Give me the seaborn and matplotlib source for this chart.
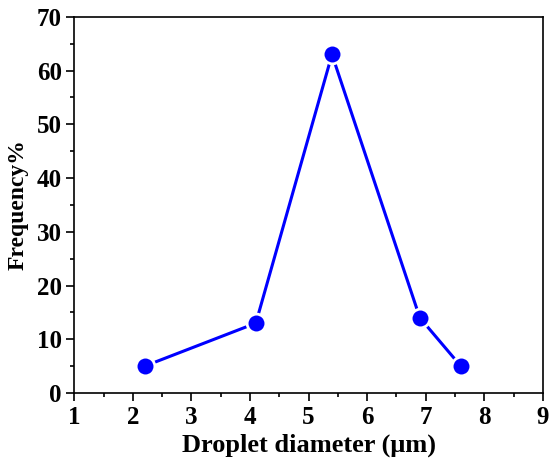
import pandas as pd
import matplotlib.pyplot as plt
import seaborn as sns
from matplotlib.ticker import MultipleLocator

diameter = [2.2, 4.1, 5.4, 6.9, 7.6]
frequency = [5, 13, 63, 14, 5]

df = pd.DataFrame({'diameter': diameter, 'frequency': frequency})

sns.set_style('ticks')
plt.rcParams['font.family'] = ['Liberation Serif', 'DejaVu Serif']
plt.rcParams['font.weight'] = 'bold'
plt.rcParams['axes.labelcolor'] = 'black'
plt.rcParams['text.color'] = 'black'

fig = plt.figure(figsize=(5.5, 4.69), dpi=100)
ax = fig.add_axes([0.135, 0.162, 0.852, 0.802])

sns.lineplot(data=df, x='diameter', y='frequency', ax=ax, color='#0000ff',
             linewidth=2.2, marker='o', markersize=13.5,
             markeredgecolor='white', markeredgewidth=2)

ax.set_xlim(1, 9)
ax.set_ylim(0, 70)
ax.xaxis.set_major_locator(MultipleLocator(1))
ax.xaxis.set_minor_locator(MultipleLocator(0.5))
ax.yaxis.set_major_locator(MultipleLocator(10))
ax.yaxis.set_minor_locator(MultipleLocator(5))
ax.tick_params(which='major', direction='out', length=6, width=1.2, labelsize=18,
               colors='black', pad=3)
ax.tick_params(which='minor', direction='out', length=3, width=1.2, colors='black')
ax.tick_params(top=False, right=False, which='both')
for lbl in ax.get_xticklabels() + ax.get_yticklabels():
    lbl.set_fontweight('bold')
for s in ax.spines.values():
    s.set_linewidth(1.2)
    s.set_color('black')

ax.set_xlabel('Droplet diameter (μm)', fontsize=19, fontweight='bold', labelpad=4)
ax.set_ylabel('Frequency%', fontsize=17, fontweight='bold', labelpad=6)

plt.savefig('out.png', dpi=100)
